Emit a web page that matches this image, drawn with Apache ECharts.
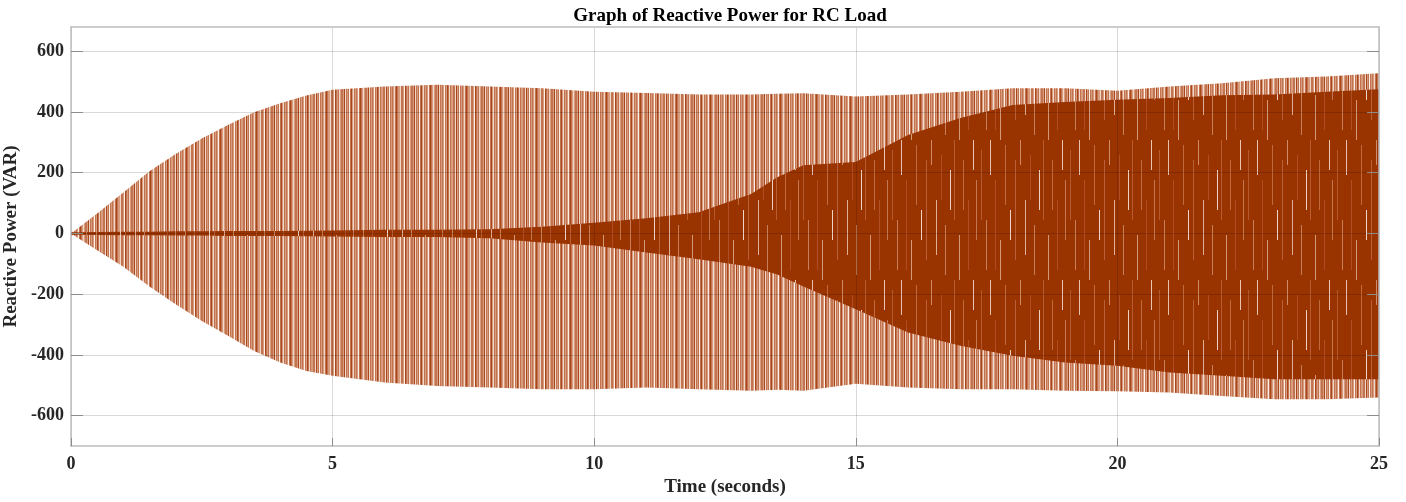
<!DOCTYPE html>
<html>
<head>
<meta charset="utf-8">
<title>Graph of Reactive Power for RC Load</title>
<script src="https://cdn.jsdelivr.net/npm/echarts@6/dist/echarts.min.js"></script>
<style>
  html, body { margin: 0; padding: 0; background: #fff; }
  #chart { width: 1406px; height: 502px; }
</style>
</head>
<body>
<div id="chart"></div>
<script>
// envelope of the signal (time in s, power in VAR)
const time      = [0, 0.5, 1, 1.5, 2, 2.5, 3, 3.5, 4, 4.5, 5, 6, 7, 8, 9, 10, 11, 12, 13, 13.5, 14, 15, 16, 17, 18, 19, 20, 21, 22, 23, 24, 25];
const peakHigh  = [0, 66, 135, 205, 262, 313, 357, 399, 429, 454, 473, 484, 490, 484, 478, 467, 463, 458, 458, 460, 462, 451, 458, 467, 478, 478, 470, 484, 495, 511, 517, 528];
const peakLow   = [0, -55, -110, -175, -233, -288, -337, -387, -425, -453, -469, -491, -502, -507, -513, -513, -507, -513, -518, -515, -518, -495, -507, -513, -513, -518, -520, -524, -535, -546, -546, -540];
// dense dark core of the trace
const coreHigh  = [0, 5, 6, 6, 7, 7, 8, 8, 8, 9, 10, 12, 12, 14, 22, 35, 50, 70, 130, 185, 225, 235, 324, 380, 423, 433, 440, 446, 455, 458, 467, 475];
const coreLow   = [0, -5, -6, -6, -7, -7, -8, -8, -8, -9, -10, -12, -12, -16, -30, -40, -63, -85, -110, -135, -175, -250, -326, -370, -403, -425, -436, -458, -469, -480, -480, -480];

const xTicks = { min: 0, max: 25, step: 5 };
const yTicks = [-600, -400, -200, 0, 200, 400, 600];

function pairs(ys) {
    return time.map((t, i) => [t, ys[i]]);
}

// stripe textures so the bands look like a dense trace
function stripes(seq, pal) {
    const c = document.createElement('canvas');
    c.width = seq.length;
    c.height = 4;
    const ctx = c.getContext('2d');
    for (let i = 0; i < seq.length; i++) {
        ctx.fillStyle = pal[seq[i]];
        ctx.fillRect(i, 0, 1, 4);
    }
    return c;
}
function coreTile() {
    const c = document.createElement('canvas');
    c.width = 89;
    c.height = 140;
    const ctx = c.getContext('2d');
    ctx.fillStyle = '#993300';
    ctx.fillRect(0, 0, 89, 140);
    const gaps = [[2, 10, 70, '#b55a30'], [7, 80, 50, '#c8805c'], [11, 0, 35, '#e6c2ae'], [16, 40, 90, '#b04f25'],
                  [21, 100, 40, '#d49a7c'], [26, 5, 60, '#c06a42'], [31, 70, 30, '#efd5c7'], [36, 20, 100, '#b8603a'],
                  [41, 0, 25, '#cf8a66'], [46, 60, 55, '#e0b096'], [51, 15, 45, '#b04f25'], [55, 85, 50, '#c8805c'],
                  [60, 30, 40, '#ecd0c0'], [64, 0, 80, '#b85c33'], [69, 95, 45, '#d39878'], [73, 20, 50, '#c06a42'],
                  [78, 60, 70, '#b04f25'], [83, 0, 30, '#e8c6b2'], [86, 40, 60, '#c47752']];
    gaps.forEach(g => { ctx.fillStyle = g[3]; ctx.fillRect(g[0], g[1], 1, g[2]); });
    return c;
}

const bandPal = { D: '#a8461c', M: '#c27450', L: '#d89c7e', P: '#f0d8ca', W: '#fbf0ea' };
const bandSeq = 'MDLPMLMLWMDMLPLMMLDPMLMLWMLDMPMLLMMPDLMWMLMLPMDMLLPMMLWDMLMPLMMLDPMLMW';
const bandFill = { image: stripes(bandSeq, bandPal), repeat: 'repeat' };
const coreFill = { image: coreTile(), repeat: 'repeat' };

const font = 'Liberation Serif';
const myChart = echarts.init(document.getElementById('chart'), null, { renderer: 'canvas' });

// each half of a band is filled towards a base slightly past zero so the halves overlap
function area(name, ys, fill, base, z) {
    return {
        name: name,
        type: 'line',
        data: pairs(ys),
        symbol: 'none',
        silent: true,
        z: z,
        lineStyle: { width: 0 },
        areaStyle: { color: fill, opacity: 1, origin: base }
    };
}

const frame = { show: true, onZero: false, lineStyle: { color: '#bdbdbd', width: 1.5 } };

const option = {
    animation: false,
    backgroundColor: '#fff',
    title: {
        text: 'Graph of Reactive Power for RC Load',
        left: 725,
        textAlign: 'center',
        top: 2,
        textStyle: { fontFamily: font, fontWeight: 'bold', fontSize: 19, color: '#000' }
    },
    grid: { left: 71, right: 27, top: 27, bottom: 56, outerBoundsMode: 'none', containLabel: false },
    xAxis: [{
        type: 'value',
        min: xTicks.min,
        max: xTicks.max,
        interval: xTicks.step,
        z: 5,
        name: 'Time (seconds)',
        nameLocation: 'middle',
        nameGap: 31,
        nameTextStyle: { fontFamily: font, fontWeight: 'bold', fontSize: 19, color: '#262626' },
        axisLine: frame,
        axisTick: { show: true, inside: true, length: 8, lineStyle: { color: '#8c8c8c' } },
        axisLabel: { fontFamily: font, fontWeight: 'bold', fontSize: 18, color: '#262626', margin: 9 },
        splitLine: { show: true, lineStyle: { color: 'rgba(0,0,0,0.15)', width: 1 } }
    }, {
        type: 'value',
        position: 'top',
        min: xTicks.min,
        max: xTicks.max,
        interval: xTicks.step,
        z: 5,
        axisLine: frame,
        axisTick: { show: false },
        axisLabel: { show: false },
        splitLine: { show: false }
    }],
    yAxis: [{
        type: 'value',
        min: -700,
        max: 680,
        z: 5,
        name: 'Reactive Power (VAR)',
        nameLocation: 'middle',
        nameGap: 44,
        nameTextStyle: { fontFamily: font, fontWeight: 'bold', fontSize: 19, color: '#262626' },
        axisLine: frame,
        axisTick: { show: true, inside: true, length: 12, customValues: yTicks, lineStyle: { color: '#8c8c8c' } },
        axisLabel: { fontFamily: font, fontWeight: 'bold', fontSize: 18, color: '#262626', margin: 7,
                     customValues: yTicks },
        splitLine: { show: true, lineStyle: { color: 'rgba(0,0,0,0.15)', width: 1 } }
    }, {
        type: 'value',
        position: 'right',
        min: -700,
        max: 680,
        z: 5,
        axisLine: frame,
        axisTick: { show: true, inside: true, length: 12, customValues: yTicks, lineStyle: { color: '#8c8c8c' } },
        axisLabel: { show: false },
        splitLine: { show: false }
    }],
    series: [
        area('peakHigh', peakHigh, bandFill, -6, 2),
        area('peakLow', peakLow, bandFill, 6, 2),
        area('coreHigh', coreHigh, coreFill, -4, 3),
        area('coreLow', coreLow, coreFill, 4, 3)
    ]
};
myChart.setOption(option);
</script>
</body>
</html>
